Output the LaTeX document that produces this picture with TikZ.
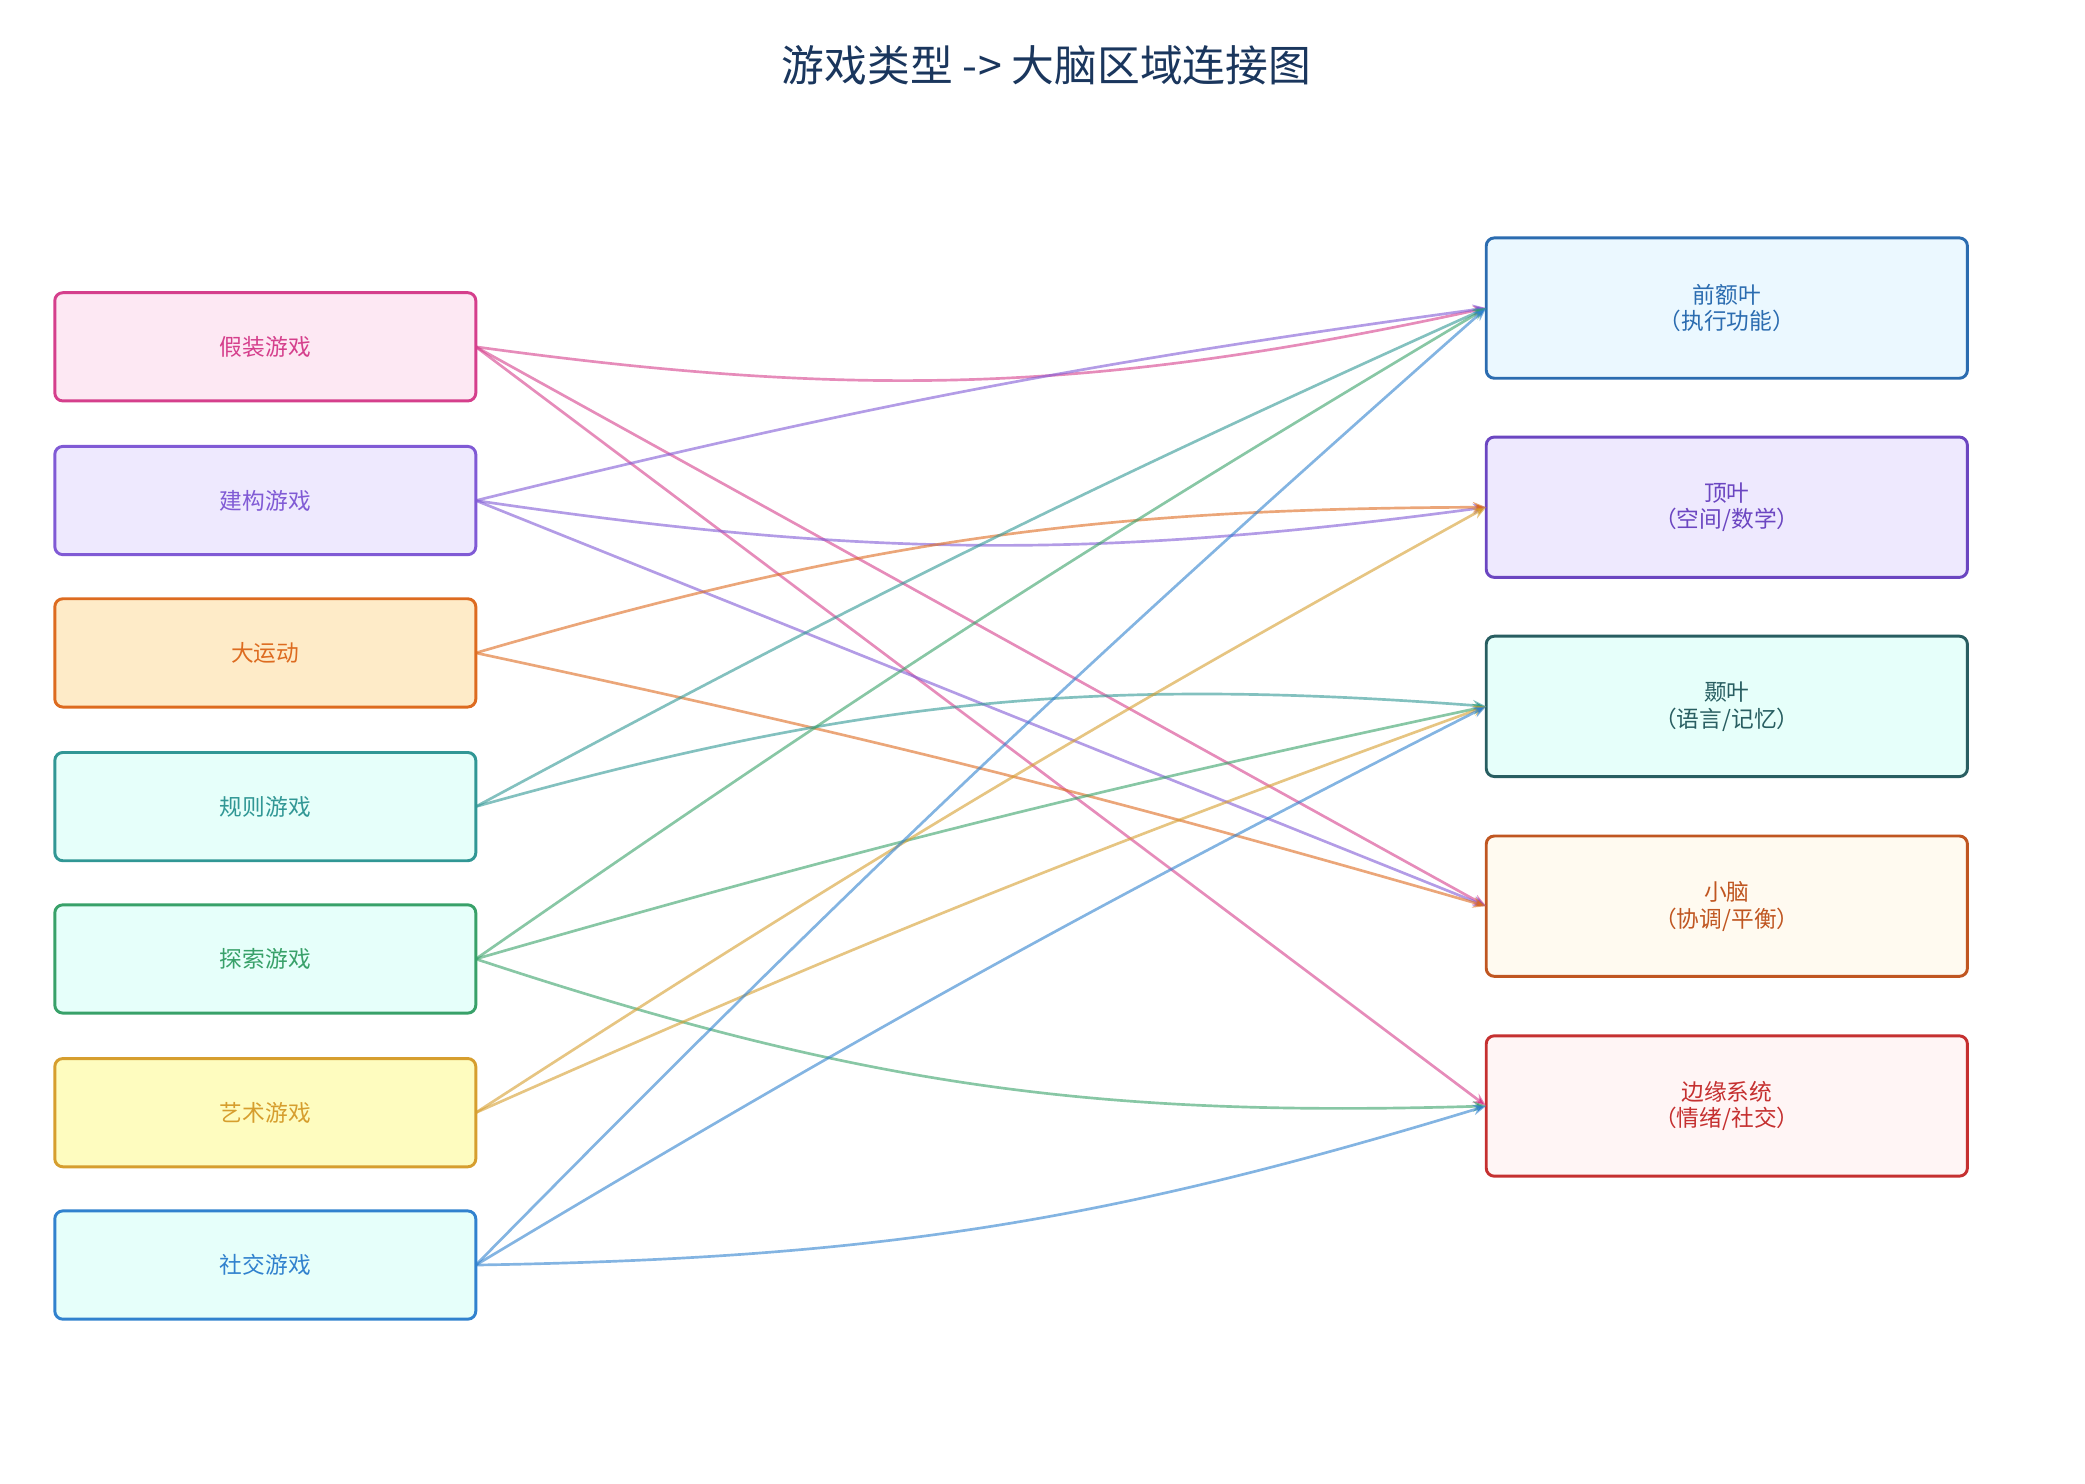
\documentclass[tikz,border=0pt]{standalone}
\usepackage{fontspec}
\setmainfont{Noto Sans CJK SC}
\usetikzlibrary{arrows.meta}
\definecolor{cA}{HTML}{D53F8C}\definecolor{fA}{HTML}{FDE8F3}
\definecolor{cB}{HTML}{805AD5}\definecolor{fB}{HTML}{EEE9FE}
\definecolor{cC}{HTML}{DD6B20}\definecolor{fC}{HTML}{FEEBC8}
\definecolor{cD}{HTML}{319795}\definecolor{fD}{HTML}{E6FFFA}
\definecolor{cE}{HTML}{38A169}\definecolor{fE}{HTML}{E6FFFA}
\definecolor{cF}{HTML}{D69E2E}\definecolor{fF}{HTML}{FEFCBF}
\definecolor{cG}{HTML}{3182CE}\definecolor{fG}{HTML}{E6FFFA}
\definecolor{rA}{HTML}{2B6CB0}\definecolor{gA}{HTML}{EBF8FF}
\definecolor{rB}{HTML}{6B46C1}\definecolor{gB}{HTML}{EEE9FE}
\definecolor{rC}{HTML}{285E61}\definecolor{gC}{HTML}{E6FFFA}
\definecolor{rD}{HTML}{C05621}\definecolor{gD}{HTML}{FFFAF0}
\definecolor{rE}{HTML}{C53030}\definecolor{gE}{HTML}{FFF5F5}
\definecolor{titlec}{HTML}{1A365D}
\tikzset{
 box/.style={draw=#1, text=#1, line width=2.2pt, rounded corners=6pt, align=center, font=\fontsize{17}{20}\selectfont, inner sep=0pt, outer sep=0pt},
 lbox/.style={box=#1, minimum width=315pt, minimum height=81pt},
 rbox/.style={box=#1, minimum width=360pt, minimum height=105pt},
 edge/.style={draw=#1, draw opacity=0.6, line width=2pt, -{Stealth[length=10pt,width=8pt]}}
}
\begin{document}
\begin{tikzpicture}[x=1pt,y=-1pt]
\useasboundingbox (0,0) rectangle (1560,1110);
\node[font=\fontsize{32}{36}\selectfont, text=titlec] (title) at (783,49) {游戏类型 -\kern1pt> 大脑区域连接图};
\node[lbox=cA, fill=fA] (a) at (198.5,259.5) {假装游戏};
\node[lbox=cB, fill=fB] (b) at (198.5,374.5) {建构游戏};
\node[lbox=cC, fill=fC] (c) at (198.5,488.5) {大运动};
\node[lbox=cD, fill=fD] (d) at (198.5,603.5) {规则游戏};
\node[lbox=cE, fill=fE] (e) at (198.5,717.5) {探索游戏};
\node[lbox=cF, fill=fF] (f) at (198.5,832.5) {艺术游戏};
\node[lbox=cG, fill=fG] (g) at (198.5,946.5) {社交游戏};
\node[rbox=rA, fill=gA] (p) at (1292,230.5) {前额叶\\（执行功能）};
\node[rbox=rB, fill=gB] (q) at (1292,379.5) {顶叶\\（空间/数学）};
\node[rbox=rC, fill=gC] (r) at (1292,528.5) {颞叶\\（语言/记忆）};
\node[rbox=rD, fill=gD] (s) at (1292,678) {小脑\\（协调/平衡）};
\node[rbox=rE, fill=gE] (t) at (1292,827.5) {边缘系统\\（情绪/社交）};
\draw[edge=cA] (a.east) to[bend right=10] (p.west);
\draw[edge=cA] (a.east) -- (s.west);
\draw[edge=cA] (a.east) -- (t.west);
\draw[edge=cB] (b.east) to[bend left=3] (p.west);
\draw[edge=cB] (b.east) to[bend right=8] (q.west);
\draw[edge=cB] (b.east) -- (s.west);
\draw[edge=cC] (c.east) to[bend left=8] (q.west);
\draw[edge=cC] (c.east) to[bend left=2] (s.west);
\draw[edge=cD] (d.east) to[bend left=2] (p.west);
\draw[edge=cD] (d.east) to[bend left=10] (r.west);
\draw[edge=cE] (e.east) to[bend left=2] (p.west);
\draw[edge=cE] (e.east) to[bend left=2] (r.west);
\draw[edge=cE] (e.east) to[bend right=10] (t.west);
\draw[edge=cF] (f.east) to[bend left=2] (q.west);
\draw[edge=cF] (f.east) to[bend left=2] (r.west);
\draw[edge=cG] (g.east) to[bend left=2] (p.west);
\draw[edge=cG] (g.east) to[bend left=2] (r.west);
\draw[edge=cG] (g.east) to[bend right=8] (t.west);
\end{tikzpicture}
\end{document}
